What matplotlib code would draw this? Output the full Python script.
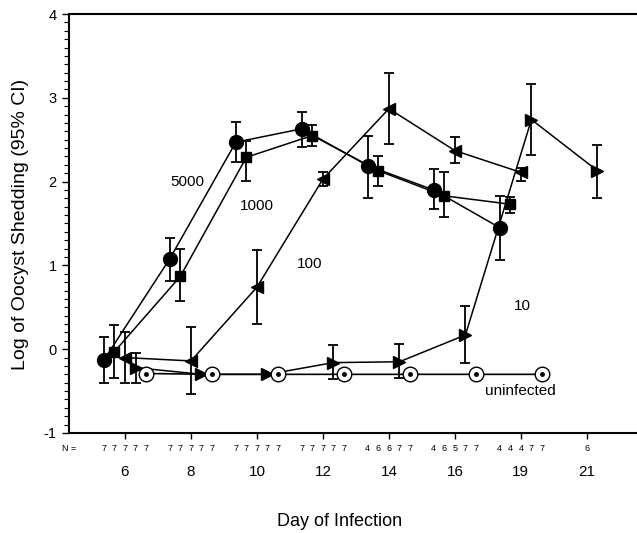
import numpy as np
import matplotlib.pyplot as plt
import matplotlib.transforms as mtransforms
from matplotlib.ticker import MultipleLocator

plt.rcParams['font.family'] = ['Liberation Sans', 'DejaVu Sans']
plt.rcParams['axes.unicode_minus'] = False

nan = np.nan

days = ['6', '8', '10', '12', '14', '16', '19', '21']
n_labels = ['77777', '77777', '77777', '77777', '46677', '46577', '44477', '6']

# mean log shedding and 95% CI per dose group
s5000 = [-0.13, 1.08, 2.47, 2.63, 2.19, 1.90, 1.45, nan]
lo5000 = [-0.40, 0.81, 2.23, 2.41, 1.81, 1.67, 1.07, nan]
hi5000 = [0.14, 1.33, 2.71, 2.83, 2.54, 2.15, 1.83, nan]

s1000 = [-0.03, 0.87, 2.29, 2.55, 2.13, 1.83, 1.73, nan]
lo1000 = [-0.34, 0.57, 2.01, 2.43, 1.95, 1.58, 1.63, nan]
hi1000 = [0.29, 1.20, 2.49, 2.68, 2.31, 2.11, 1.82, nan]

s100 = [-0.10, -0.14, 0.74, 2.03, 2.87, 2.37, 2.11, nan]
lo100 = [-0.40, -0.53, 0.30, 1.95, 2.45, 2.22, 2.01, nan]
hi100 = [0.21, 0.26, 1.18, 2.12, 3.30, 2.53, 2.16, nan]

s10 = [-0.22, -0.30, -0.30, -0.16, -0.15, 0.17, 2.74, 2.13]
lo10 = [-0.40, -0.30, -0.30, -0.36, -0.34, -0.16, 2.32, 1.80]
hi10 = [-0.05, -0.30, -0.30, 0.05, 0.06, 0.51, 3.17, 2.44]

s0 = [-0.29, -0.30, -0.30, -0.30, -0.30, -0.30, -0.30, nan]

offsets = [-0.32, -0.16, 0.0, 0.16, 0.32]

fig = plt.figure(figsize=(6.37, 5.33), dpi=100)
ax = fig.add_axes([69 / 637, 100 / 533, 1 - 69 / 637, 419 / 533])

pos = np.arange(len(days))

groups = [
    (s5000, lo5000, hi5000, 'o', 10),
    (s1000, lo1000, hi1000, 's', 7.5),
    (s100, lo100, hi100, '<', 8.5),
    (s10, lo10, hi10, '>', 8.5),
]
for (y, lo, hi, mk, ms), off in zip(groups, offsets):
    y = np.array(y)
    lo = np.array(lo)
    hi = np.array(hi)
    x = pos + off
    ok = ~np.isnan(y)
    bar = ok & (hi > lo)
    ax.errorbar(x[bar], y[bar], yerr=[y[bar] - lo[bar], hi[bar] - y[bar]],
                fmt='none', ecolor='black', elinewidth=1.3, capsize=3.5,
                capthick=1.3, zorder=2)
    ax.plot(x[ok], y[ok], '-', color='black', lw=1.1, marker=mk, ms=ms,
            mfc='black', mec='black', zorder=3)

# uninfected: open circle with dot
y0 = np.array(s0)
ok = ~np.isnan(y0)
x0 = pos[ok] + offsets[4]
ax.plot(x0, y0[ok], '-', color='black', lw=1.2, marker='o', ms=10.5,
        mfc='white', mec='black', mew=1.0, zorder=3)
ax.plot(x0, y0[ok], 'o', color='black', ms=2.5, zorder=4)

# group labels
ax.text(0.95, 2.0, '5000', fontsize=11, ha='center', va='center')
ax.text(2.0, 1.71, '1000', fontsize=11, ha='center', va='center')
ax.text(2.8, 1.02, '100', fontsize=11, ha='center', va='center')
ax.text(6.03, 0.51, '10', fontsize=11, ha='center', va='center')
ax.text(6.0, -0.5, 'uninfected', fontsize=11, ha='center', va='center')

ax.set_xlim(-0.848, 7.76)
ax.set_ylim(-1, 4)
ax.set_yticks([-1, 0, 1, 2, 3, 4])
ax.yaxis.set_minor_locator(MultipleLocator(0.1))
ax.set_xticks(pos)
ax.set_xticklabels([''] * len(days))
ax.tick_params(axis='y', which='major', length=5, width=1, labelsize=10.5, pad=4)
ax.tick_params(axis='y', which='minor', length=3.5, width=0.8)
ax.tick_params(axis='x', length=4, width=1)
for side in ['left', 'bottom', 'top']:
    ax.spines[side].set_linewidth(1.5)
ax.spines['right'].set_visible(False)

# N row and day labels under the axis
trans = mtransforms.blended_transform_factory(ax.transData, ax.transAxes)
ax.text(-0.85, -0.036, 'N =', fontsize=6.5, ha='center', va='center',
        transform=trans, clip_on=False)
for i, s in enumerate(n_labels):
    if len(s) == len(offsets):
        for ch, off in zip(s, offsets):
            ax.text(i + off, -0.036, ch, fontsize=6.5, ha='center', va='center',
                    transform=trans, clip_on=False)
    else:
        ax.text(i, -0.036, s, fontsize=6.5, ha='center', va='center',
                transform=trans, clip_on=False)
    ax.text(i, -0.093, days[i], fontsize=11, ha='center', va='center',
            transform=trans, clip_on=False)

fig.text(340 / 637, 1 - 521 / 533, 'Day of Infection', fontsize=13,
         ha='center', va='center')
fig.text(21 / 637, 1 - 224 / 533, 'Log of Oocyst Shedding (95% CI)',
         fontsize=14, ha='center', va='center', rotation=90)

fig.savefig('out.png', dpi=100)
